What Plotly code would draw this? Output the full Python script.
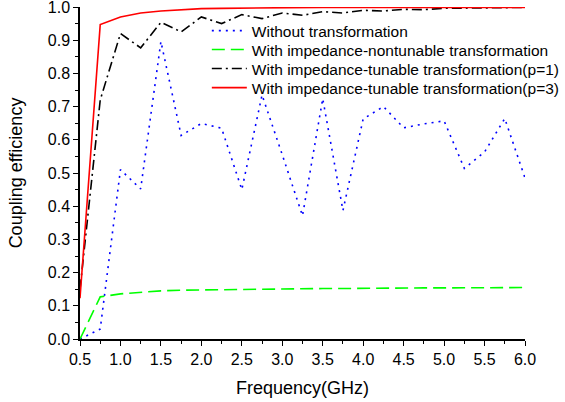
import plotly.graph_objects as go

freq = [0.5, 0.75, 1.0, 1.25, 1.5, 1.75, 2.0, 2.25, 2.5, 2.75, 3.0, 3.25,
        3.5, 3.75, 4.0, 4.25, 4.5, 4.75, 5.0, 5.25, 5.5, 5.75, 6.0]

without = [0.0, 0.03, 0.51, 0.452, 0.896, 0.613, 0.649, 0.635, 0.45, 0.735, 0.555, 0.371,
           0.724, 0.387, 0.663, 0.70, 0.636, 0.648, 0.657, 0.514, 0.563, 0.664, 0.485]

nontunable = [0.0, 0.127, 0.136, 0.141, 0.145, 0.147, 0.148, 0.149, 0.149, 0.150, 0.151, 0.152,
              0.152, 0.152, 0.153, 0.153, 0.153, 0.154, 0.154, 0.154, 0.155, 0.155, 0.155]

tunable_p1 = [0.15, 0.72, 0.92, 0.877, 0.954, 0.925, 0.97, 0.95, 0.977, 0.965, 0.982, 0.975,
              0.986, 0.982, 0.99, 0.988, 0.993, 0.992, 0.996, 0.996, 0.998, 0.998, 0.999]

tunable_p3 = [0.123, 0.947, 0.97, 0.982, 0.988, 0.992, 0.995, 0.996, 0.997, 0.998, 0.998, 0.999,
              0.999, 0.999, 0.999, 0.999, 0.999, 0.999, 0.999, 0.999, 0.999, 0.999, 0.999]

names = ["Without transformation",
         "With impedance-nontunable transformation",
         "With impedance-tunable transformation(p=1)",
         "With impedance-tunable transformation(p=3)"]

x_ticks = [0.5, 1.0, 1.5, 2.0, 2.5, 3.0, 3.5, 4.0, 4.5, 5.0, 5.5, 6.0]
y_ticks = [0.0, 0.1, 0.2, 0.3, 0.4, 0.5, 0.6, 0.7, 0.8, 0.9, 1.0]

series = [without, nontunable, tunable_p1, tunable_p3]
colors = ["#0000FF", "#00FF00", "#000000", "#FF0000"]
dashes = ["2px,5px", "13px,6px", "10px,4px,2px,4px", "solid"]
legend_ids = ["legend", "legend2", "legend3", "legend4"]
legend_y = [0.9277, 0.8705, 0.8133, 0.756]

fig = go.Figure()
for ys, nm, c, d, lg in zip(series, names, colors, dashes, legend_ids):
    fig.add_trace(go.Scatter(x=freq, y=ys, mode="lines", name=nm, legend=lg,
                             line=dict(color=c, width=1.6, dash=d)))

font_family = "Liberation Sans, Arial, sans-serif"

legend_common = dict(x=0.285, xanchor="left", yanchor="middle",
                     bgcolor="rgba(0,0,0,0)", font=dict(size=15.5),
                     itemwidth=35)

fig.update_layout(
    width=565, height=402,
    margin=dict(l=80, r=40, t=7, b=63, autoexpand=False),
    paper_bgcolor="white", plot_bgcolor="white",
    font=dict(family=font_family, size=16, color="black"),
    showlegend=True,
    legend=dict(y=legend_y[0], **legend_common),
    legend2=dict(y=legend_y[1], **legend_common),
    legend3=dict(y=legend_y[2], **legend_common),
    legend4=dict(y=legend_y[3], **legend_common),
    xaxis=dict(
        range=[0.5, 6.0], tickvals=x_ticks,
        ticktext=[f"{v:.1f}" for v in x_ticks],
        showgrid=False, zeroline=False, automargin=False,
        showline=True, linecolor="black", linewidth=1.5,
        ticks="outside", ticklen=5, tickwidth=1.2, tickcolor="black",
        ticklabeloverflow="allow",
        minor=dict(dtick=0.25, ticks="outside", ticklen=3, tickwidth=1, tickcolor="black"),
        title=dict(text="Frequency(GHz)", font=dict(size=18), standoff=14),
        tickfont=dict(size=16),
    ),
    yaxis=dict(
        range=[0.0, 1.0], tickvals=y_ticks,
        ticktext=[f"{v:.1f}" for v in y_ticks],
        showgrid=False, zeroline=False, automargin=False,
        showline=True, linecolor="black", linewidth=1.5,
        ticks="outside", ticklen=5, tickwidth=1.2, tickcolor="black",
        ticklabeloverflow="allow",
        minor=dict(dtick=0.05, ticks="outside", ticklen=3, tickwidth=1, tickcolor="black"),
        title=dict(text="Coupling efficiency", font=dict(size=18), standoff=20),
        tickfont=dict(size=16),
    ),
)

fig.write_html("out.html", config={"displayModeBar": False},
               post_script="document.body.style.margin='0';")
